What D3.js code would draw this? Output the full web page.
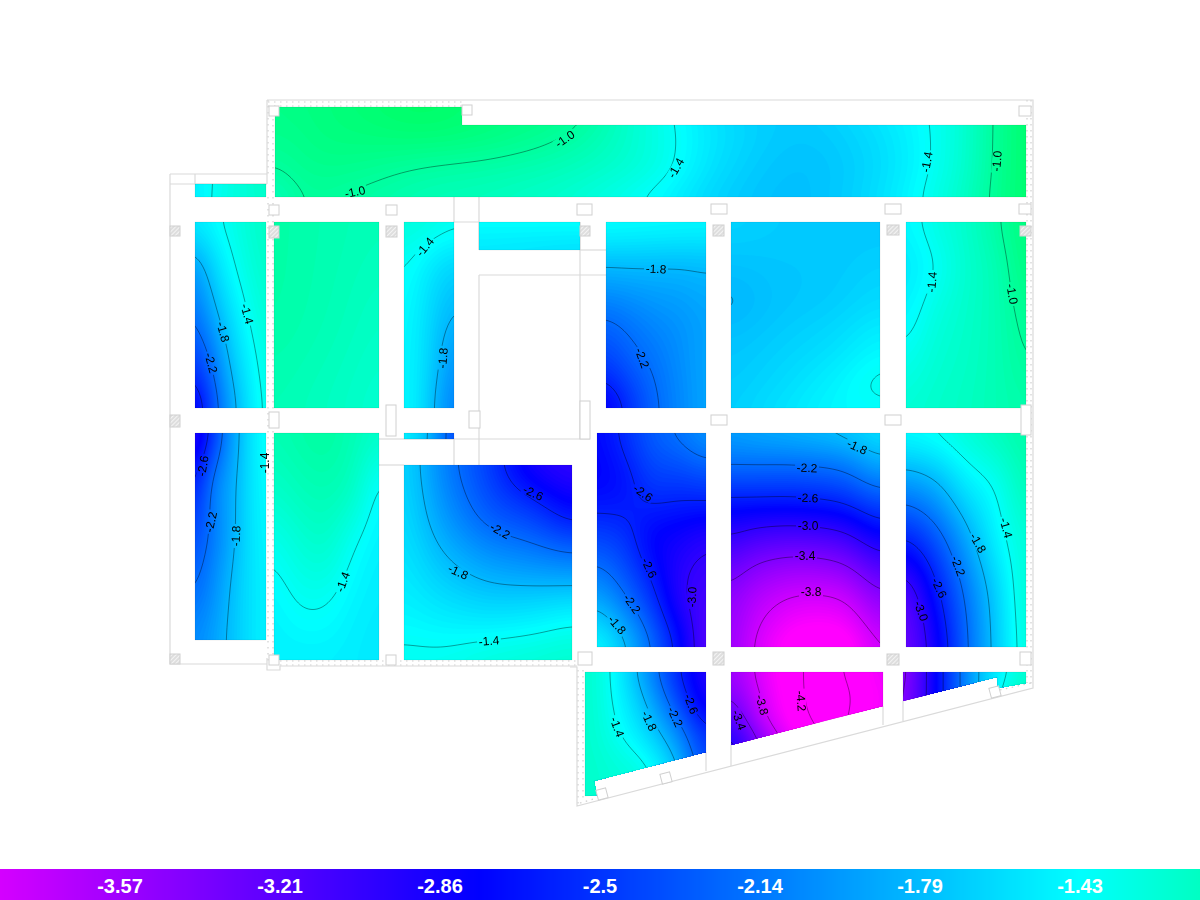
<!DOCTYPE html>
<html>
<head>
<meta charset="utf-8">
<title>Slab contour</title>
<script src="https://cdn.jsdelivr.net/npm/d3@7"></script>
<style>
html, body { margin: 0; padding: 0; background: #fff; }
svg { display: block; }
</style>
</head>
<body>
<script>
// values, one matrix per slab panel (rows = ys, columns = xs)
var topXs = [275, 300, 318, 345, 425, 500, 575, 650, 726, 801, 876, 951, 1026];
var topYs = [107, 137, 167, 197];
var topValues = [
  [-0.9, -0.88, -0.86, -0.83, -0.76, -0.85, -0.95, -1.3, -1.62, -1.7, -1.55, -1.3, -0.8],
  [-0.93, -0.91, -0.88, -0.86, -0.84, -0.9, -1.03, -1.29, -1.6, -1.72, -1.6, -1.3, -0.8],
  [-1.0, -0.95, -0.93, -0.93, -1.0, -1.05, -1.14, -1.31, -1.63, -1.75, -1.62, -1.29, -0.8],
  [-1.12, -1.01, -0.985, -1.01, -1.1, -1.15, -1.24, -1.42, -1.68, -1.76, -1.6, -1.25, -0.8]
];
var stubXs = [195, 210, 266];
var stubYs = [184, 197];
var stubValues = [[-1.5, -1.4, -1.18], [-1.55, -1.38, -1.2]];

var aXs = [195, 213, 231, 248, 266];
var aYs = [222, 268.5, 315, 361.5, 408];
var aValues = [
  [-1.55, -1.45, -1.35, -1.25, -1.17],
  [-1.95, -1.66, -1.44, -1.3, -1.2],
  [-2.2, -1.88, -1.6, -1.39, -1.25],
  [-2.47, -2.15, -1.75, -1.5, -1.3],
  [-2.85, -2.33, -1.9, -1.58, -1.33]
];
var bXs = [274, 326, 379];
var bYs = [222, 315, 408];
var bValues = [[-1.04, -1.08, -1.12], [-1.05, -1.1, -1.17], [-1.1, -1.15, -1.22]];

var cXs = [404, 421, 437, 454];
var cYs = [222, 268, 315, 361, 408];
var cValues = [
  [-1.28, -1.3, -1.33, -1.37],
  [-1.39, -1.47, -1.58, -1.65],
  [-1.44, -1.54, -1.7, -1.82],
  [-1.46, -1.56, -1.77, -1.98],
  [-1.45, -1.58, -1.85, -2.1]
];
var dXs = [479, 580];
var dYs = [222, 250];
var dValues = [[-1.42, -1.41], [-1.55, -1.6]];

var eXs = [606, 631, 656, 681, 706];
var eYs = [222, 268, 315, 361, 408];
var eValues = [
  [-1.42, -1.43, -1.44, -1.45, -1.46],
  [-1.81, -1.8, -1.8, -1.8, -1.78],
  [-2.18, -2.1, -2.02, -1.97, -1.9],
  [-2.45, -2.28, -2.15, -2.02, -1.9],
  [-2.8, -2.5, -2.22, -2.05, -1.9]
];
var fXs = [731, 781, 831, 880];
var fYs = [222, 297, 346, 385, 408];
var fValues = [
  [-1.66, -1.7, -1.72, -1.72],
  [-1.808, -1.74, -1.7, -1.63],
  [-1.74, -1.68, -1.6, -1.48],
  [-1.7, -1.62, -1.5, -1.37],
  [-1.68, -1.58, -1.47, -1.43]
];
var gXs = [906, 936, 966, 996, 1026];
var gYs = [222, 268, 315, 361, 408];
var gValues = [
  [-1.47, -1.32, -1.2, -1.03, -0.85],
  [-1.53, -1.39, -1.22, -1.09, -0.88],
  [-1.47, -1.3, -1.2, -1.1, -0.95],
  [-1.35, -1.24, -1.18, -1.1, -1.0],
  [-1.25, -1.2, -1.16, -1.1, -1.05]
];
var hXs = [195, 213, 231, 248, 266];
var hYs = [433, 485, 537, 588, 640];
var hValues = [
  [-3.0, -2.47, -1.97, -1.62, -1.37],
  [-2.65, -2.12, -1.9, -1.6, -1.42],
  [-2.4, -2.12, -1.87, -1.6, -1.46],
  [-2.22, -2.03, -1.78, -1.6, -1.48],
  [-2.05, -1.93, -1.75, -1.6, -1.48]
];
var iXs = [274, 300, 326, 352, 379];
var iYs = [433, 490, 546, 603, 660];
var iValues = [
  [-1.1, -1.05, -1.02, -1.1, -1.2],
  [-1.2, -1.13, -1.1, -1.18, -1.43],
  [-1.36, -1.26, -1.22, -1.38, -1.5],
  [-1.47, -1.39, -1.39, -1.48, -1.53],
  [-1.5, -1.5, -1.5, -1.52, -1.55]
];
var jXs = [404, 429, 454];
var jYs = [433, 439];
var jValues = [[-1.5, -1.78, -2.4], [-1.5, -1.82, -2.4]];

var kXs = [404, 446, 488, 530, 572];
var kYs = [465, 514, 562, 611, 660];
var kValues = [
  [-1.65, -2.1, -2.45, -2.85, -3.0],
  [-1.62, -1.98, -2.28, -2.45, -2.68],
  [-1.56, -1.77, -1.94, -2.02, -2.09],
  [-1.48, -1.55, -1.6, -1.58, -1.52],
  [-1.37, -1.36, -1.3, -1.26, -1.22]
];
var lXs = [597, 624, 651, 679, 706];
var lYs = [433, 486, 540, 593, 647];
var lValues = [
  [-2.75, -2.55, -2.3, -2.17, -2.0],
  [-2.75, -2.68, -2.5, -2.5, -2.46],
  [-2.4, -2.5, -2.75, -2.85, -2.95],
  [-1.95, -2.2, -2.53, -2.95, -3.1],
  [-1.45, -1.75, -2.2, -2.7, -3.2]
];
var mXs = [731, 757, 797, 843, 880];
var mYs = [433, 465, 497, 530, 563, 597, 647];
var mValues = [
  [-1.95, -1.9, -1.84, -1.75, -1.6],
  [-2.2, -2.2, -2.2, -2.13, -1.9],
  [-2.6, -2.6, -2.6, -2.52, -2.31],
  [-2.95, -3.03, -3.06, -2.98, -2.73],
  [-3.25, -3.4, -3.48, -3.4, -3.12],
  [-3.48, -3.67, -3.82, -3.78, -3.46],
  [-3.55, -3.85, -4.15, -4.15, -3.8]
];
var nXs = [906, 936, 966, 996, 1026];
var nYs = [433, 486, 540, 593, 647];
var nValues = [
  [-1.45, -1.39, -1.27, -1.15, -1.05],
  [-2.0, -1.85, -1.55, -1.38, -1.12],
  [-2.62, -2.33, -1.9, -1.5, -1.25],
  [-3.15, -2.66, -2.15, -1.67, -1.25],
  [-3.3, -2.84, -2.24, -1.72, -1.28]
];
var oXs = [585, 615, 645, 675, 706];
var oYs = [672, 703, 734, 765, 796];
var oValues = [
  [-1.2, -1.45, -1.95, -2.52, -2.95],
  [-1.2, -1.42, -1.78, -2.32, -2.85],
  [-1.2, -1.36, -1.6, -2.0, -2.55],
  [-1.2, -1.27, -1.38, -1.75, -2.4],
  [-1.2, -1.25, -1.3, -1.6, -2.2]
];
var pXs = [731, 769, 807, 845, 883];
var pYs = [672, 697, 721, 745];
var pValues = [
  [-3.55, -3.98, -4.22, -4.2, -3.95],
  [-3.4, -3.92, -4.22, -4.24, -4.0],
  [-3.15, -3.82, -4.19, -4.22, -3.95],
  [-2.9, -3.55, -4.1, -4.2, -3.9]
];
var qXs = [903, 927, 943, 960, 977, 1008, 1026];
var qYs = [672, 701];
var qValues = [
  [-3.5, -3.0, -2.6, -2.2, -1.8, -1.4, -1.22],
  [-3.45, -3.0, -2.6, -2.2, -1.8, -1.25, -1.1]
];

var contourLevels = [-4.2, -3.8, -3.4, -3.0, -2.6, -2.2, -1.8, -1.4, -1.0];
var legendLabels = ["-3.57", "-3.21", "-2.86", "-2.5", "-2.14", "-1.79", "-1.43"];

// contour labels: text, plan position, angle
var contourLabels = [
  ["-1.0", 355, 192, -12], ["-1.0", 565, 139, -35], ["-1.4", 676, 168, -60],
  ["-1.4", 927, 162, -80], ["-1.0", 997, 161, -85],
  ["-1.4", 247, 314, 75], ["-1.8", 223, 332, 75], ["-2.2", 211, 363, 75],
  ["-1.4", 425, 247, -50], ["-1.8", 443, 358, -85],
  ["-1.8", 656, 269, 3], ["-2.2", 642, 358, 70],
  ["-1.4", 932, 282, -85], ["-1.0", 1012, 294, 80],
  ["-2.6", 203, 466, -80], ["-2.2", 211, 522, -78], ["-1.8", 236, 536, -88], ["-1.4", 265, 463, -90],
  ["-1.4", 343, 582, -70],
  ["-2.6", 533, 493, 25], ["-2.2", 500, 531, 30], ["-1.8", 458, 572, 25], ["-1.4", 489, 641, -5],
  ["-2.6", 643, 493, 35], ["-2.6", 649, 568, 65], ["-2.2", 632, 604, 55], ["-1.8", 617, 625, 50], ["-3.0", 692, 597, -88],
  ["-1.8", 857, 447, 25], ["-2.2", 807, 468, 2], ["-2.6", 808, 498, 2], ["-3.0", 808, 526, 0], ["-3.4", 805, 556, 0], ["-3.8", 811, 592, 0],
  ["-1.4", 1006, 528, 75], ["-1.8", 978, 543, 60], ["-2.2", 958, 566, 70], ["-2.6", 939, 588, 65], ["-3.0", 921, 611, 70],
  ["-1.4", 617, 727, 70], ["-1.8", 649, 721, 65], ["-2.2", 675, 717, 65], ["-2.6", 691, 704, 70],
  ["-3.4", 739, 720, 70], ["-3.8", 762, 705, 75], ["-4.2", 801, 701, 85]
];

// plan geometry
function box(x0, y0, x1, y1) { return [[x0, y0], [x1, y0], [x1, y1], [x0, y1]]; }

var panels = [
  { xs: topXs, ys: topYs, values: topValues, outline: [[275, 107], [462, 107], [462, 125], [1026, 125], [1026, 197], [275, 197]] },
  { xs: stubXs, ys: stubYs, values: stubValues, outline: box(195, 184, 266, 197) },
  { xs: aXs, ys: aYs, values: aValues, outline: box(195, 222, 266, 408) },
  { xs: bXs, ys: bYs, values: bValues, outline: box(274, 222, 379, 408) },
  { xs: cXs, ys: cYs, values: cValues, outline: box(404, 222, 454, 408) },
  { xs: dXs, ys: dYs, values: dValues, outline: box(479, 222, 580, 250) },
  { xs: eXs, ys: eYs, values: eValues, outline: box(606, 222, 706, 408) },
  { xs: fXs, ys: fYs, values: fValues, outline: box(731, 222, 880, 408) },
  { xs: gXs, ys: gYs, values: gValues, outline: box(906, 222, 1026, 408) },
  { xs: hXs, ys: hYs, values: hValues, outline: box(195, 433, 266, 640) },
  { xs: iXs, ys: iYs, values: iValues, outline: box(274, 433, 379, 660) },
  { xs: jXs, ys: jYs, values: jValues, outline: box(404, 433, 454, 439) },
  { xs: kXs, ys: kYs, values: kValues, outline: box(404, 465, 572, 660) },
  { xs: lXs, ys: lYs, values: lValues, outline: box(597, 433, 706, 647) },
  { xs: mXs, ys: mYs, values: mValues, outline: box(731, 433, 880, 647) },
  { xs: nXs, ys: nYs, values: nValues, outline: box(906, 433, 1026, 647) },
  { xs: oXs, ys: oYs, values: oValues, outline: [[585, 672], [706, 672], [706, 752], [594, 781], [597, 795], [585, 796]] },
  { xs: pXs, ys: pYs, values: pValues, outline: [[731, 672], [883, 672], [883, 706], [731, 745]] },
  { xs: qXs, ys: qYs, values: qValues, outline: [[903, 672], [1026, 672], [1026, 683], [998, 688], [997, 677], [903, 701]] }
];

var wallLines = [
  [[267, 100], [1033, 100], [1033, 688], [577, 806], [577, 667], [570, 667]],
  [[267, 100], [267, 184]],
  [[170, 174], [267, 174]], [[170, 184], [267, 184]], [[195, 174], [195, 184]],
  [[170, 174], [170, 664], [267, 664]],
  [[267, 658], [267, 670], [280, 670], [280, 666], [577, 666]],
  [[454, 197], [454, 222], [479, 222], [479, 197]],
  [[479, 222], [479, 250]],
  [[479, 275], [479, 465]], [[479, 275], [606, 275]], [[580, 250], [606, 250]], [[580, 222], [580, 439]],
  [[404, 439], [590, 439]], [[454, 439], [454, 465]], [[379, 465], [404, 465]], [[379, 439], [404, 439]],
  [[706, 752], [706, 771]], [[731, 745], [731, 766]], [[883, 706], [883, 725]], [[903, 701], [903, 721]]
];
var dottedLines = [
  [[268, 100], [268, 174]], [[268, 197], [268, 665]], [[273, 107], [273, 660]],
  [[268, 102], [462, 102]], [[268, 106], [462, 106]],
  [[1027, 100], [1027, 683]], [[1031, 100], [1031, 686]],
  [[280, 661], [577, 661]], [[280, 665], [577, 665]],
  [[578, 670], [578, 804]], [[583, 670], [583, 802]],
  [[580, 803], [597, 798]], [[1000, 690], [1031, 683]], [[1003, 686], [1026, 680]]
];
var plainColumns = [
  [269, 106, 279, 116], [462, 105, 472, 115], [1019, 106, 1031, 116],
  [269, 205, 279, 215], [386, 205, 397, 215], [577, 204, 592, 215], [711, 204, 727, 214], [885, 204, 901, 214], [1019, 204, 1031, 214],
  [269, 412, 279, 428], [386, 405, 396, 436], [469, 411, 480, 428], [580, 401, 590, 439], [711, 415, 727, 425], [885, 415, 901, 425], [1021, 405, 1031, 435],
  [269, 655, 279, 665], [386, 655, 396, 665], [578, 652, 592, 665], [1020, 652, 1031, 665]
];
var hatchedColumns = [
  [170, 226, 180, 236], [269, 226, 279, 238], [386, 226, 397, 237], [580, 226, 590, 236], [713, 225, 724, 236], [887, 225, 899, 235], [1020, 226, 1031, 236],
  [170, 415, 180, 427],
  [170, 654, 180, 664], [713, 652, 724, 665], [887, 654, 899, 665]
];
var tiltedColumns = [[602, 794], [666, 778], [995, 692]];

var width = 1200;
var height = 900;

var planX = d3.scaleLinear().domain([0, 1200]).range([0, width]);
var planY = d3.scaleLinear().domain([0, 900]).range([0, height]);

var color = d3.scaleLinear()
  .domain([-4.05, -2.77, -1.43, -0.3])
  .range(["#ff00ff", "#0000ff", "#00ffff", "#00ff00"])
  .clamp(true);

var legendX = d3.scaleLinear().domain([-3.57, -1.43]).range([120, 1080]);
var legendPos = d3.scalePoint().domain(legendLabels).range([120, 1080]);

var svg = d3.select("body").append("svg")
  .attr("width", width)
  .attr("height", height)
  .attr("viewBox", "0 0 " + width + " " + height);

var defs = svg.append("defs");

var hatch = defs.append("pattern")
  .attr("id", "hatch")
  .attr("width", 3).attr("height", 3)
  .attr("patternUnits", "userSpaceOnUse")
  .attr("patternTransform", "rotate(-45)");
hatch.append("rect").attr("width", 3).attr("height", 3).attr("fill", "#f4f4f4");
hatch.append("line").attr("x1", 0).attr("x2", 3).attr("y1", 1).attr("y2", 1)
  .attr("stroke", "#bdbdbd").attr("stroke-width", 0.8);

var line = d3.line().x(function(d) { return planX(d[0]); }).y(function(d) { return planY(d[1]); });

// catmull-rom sampling of a panel's value matrix
function cubic(a, b, c, d, t) {
  return b + 0.5 * t * (c - a + t * (2 * a - 5 * b + 4 * c - d + t * (3 * (b - c) + d - a)));
}

function sampler(panel) {
  var ux = d3.scaleLinear().domain(panel.xs).range(d3.range(panel.xs.length)).clamp(true);
  var uy = d3.scaleLinear().domain(panel.ys).range(d3.range(panel.ys.length)).clamp(true);
  var nx = panel.xs.length, ny = panel.ys.length;
  function at(i, j) {
    return panel.values[Math.max(0, Math.min(ny - 1, j))][Math.max(0, Math.min(nx - 1, i))];
  }
  return function(x, y) {
    var u = ux(x), v = uy(y);
    var i = Math.min(Math.floor(u), nx - 1), j = Math.min(Math.floor(v), ny - 1);
    var tx = u - i, ty = v - j;
    var rows = [];
    for (var k = -1; k <= 2; k++) {
      rows.push(cubic(at(i - 1, j + k), at(i, j + k), at(i + 1, j + k), at(i + 2, j + k), tx));
    }
    return cubic(rows[0], rows[1], rows[2], rows[3], ty);
  };
}

// walls under everything
var walls = svg.append("g").attr("fill", "none");
walls.selectAll(".dot").data(dottedLines).enter().append("path")
  .attr("d", line)
  .attr("stroke", "#cfcfcf")
  .attr("stroke-width", 1.2)
  .attr("stroke-dasharray", "1.5,4.5");
walls.selectAll(".wall").data(wallLines).enter().append("path")
  .attr("d", line)
  .attr("stroke", "#dadada")
  .attr("stroke-width", 1.2);

// gaps in the contour lines where the labels sit
var mask = defs.append("mask")
  .attr("id", "label-gaps")
  .attr("maskUnits", "userSpaceOnUse")
  .attr("x", 0).attr("y", 0).attr("width", width).attr("height", height);
mask.append("rect").attr("width", width).attr("height", height).attr("fill", "#fff");
mask.selectAll("rect.gap").data(contourLabels).enter().append("rect")
  .attr("class", "gap")
  .attr("x", -12).attr("y", -5).attr("width", 24).attr("height", 10)
  .attr("fill", "#000")
  .attr("transform", function(d) { return "translate(" + planX(d[1]) + "," + planY(d[2]) + ") rotate(" + d[3] + ")"; });

var fills = svg.append("g");
var isolines = svg.append("g").attr("mask", "url(#label-gaps)");
var cell = 2, margin = 4, bandStep = 0.025;

panels.forEach(function(panel, index) {
  var clipId = "panel-" + index;
  defs.append("clipPath").attr("id", clipId).append("path").attr("d", line(panel.outline) + "Z");

  var x0 = d3.min(panel.outline, function(d) { return d[0]; }) - margin;
  var x1 = d3.max(panel.outline, function(d) { return d[0]; }) + margin;
  var y0 = d3.min(panel.outline, function(d) { return d[1]; }) - margin;
  var y1 = d3.max(panel.outline, function(d) { return d[1]; }) + margin;
  var nx = Math.ceil((x1 - x0) / cell) + 1;
  var ny = Math.ceil((y1 - y0) / cell) + 1;

  var sample = sampler(panel);
  var grid = new Array(nx * ny);
  for (var j = 0; j < ny; j++) {
    for (var i = 0; i < nx; i++) {
      grid[i + j * nx] = sample(x0 + i * cell, y0 + j * cell);
    }
  }
  // take the wobble out of the cubic patches
  d3.blur2({ data: grid, width: nx, height: ny }, 4);

  var path = d3.geoPath(d3.geoTransform({
    point: function(cx, cy) {
      this.stream.point(planX(x0 + (cx - 0.5) * cell), planY(y0 + (cy - 0.5) * cell));
    }
  }));
  var contours = d3.contours().size([nx, ny]);

  var lo = Math.floor(d3.min(grid) / bandStep) * bandStep;
  var bands = contours.thresholds(d3.range(lo, d3.max(grid), bandStep))(grid);

  fills.append("g")
    .attr("clip-path", "url(#" + clipId + ")")
    .selectAll("path").data(bands).enter().append("path")
    .attr("d", path)
    .attr("fill", function(d) { return color(d.value + bandStep / 2); });

  isolines.append("g")
    .attr("clip-path", "url(#" + clipId + ")")
    .selectAll("path").data(contours.thresholds(contourLevels)(grid)).enter().append("path")
    .attr("d", path)
    .attr("fill", "none")
    .attr("stroke", "#000")
    .attr("stroke-opacity", 0.42)
    .attr("stroke-width", 0.9);

  fills.append("path")
    .attr("d", line(panel.outline) + "Z")
    .attr("fill", "none")
    .attr("stroke", "#000")
    .attr("stroke-opacity", 0.12)
    .attr("stroke-width", 0.6);
});

// columns
var columns = svg.append("g");
function drawColumns(data, fill) {
  columns.selectAll(null).data(data).enter().append("rect")
    .attr("x", function(d) { return planX(d[0]); })
    .attr("y", function(d) { return planY(d[1]); })
    .attr("width", function(d) { return planX(d[2]) - planX(d[0]); })
    .attr("height", function(d) { return planY(d[3]) - planY(d[1]); })
    .attr("fill", fill)
    .attr("stroke", "#d0d0d0")
    .attr("stroke-width", 1);
}
drawColumns(plainColumns, "#fff");
drawColumns(hatchedColumns, "url(#hatch)");

columns.selectAll(null).data(tiltedColumns).enter().append("rect")
  .attr("x", -5).attr("y", -5).attr("width", 10).attr("height", 10)
  .attr("fill", "#fff")
  .attr("stroke", "#d0d0d0")
  .attr("transform", function(d) { return "translate(" + planX(d[0]) + "," + planY(d[1]) + ") rotate(-15)"; });

// contour labels
svg.append("g")
  .attr("font-family", "'Liberation Sans', Arial, sans-serif")
  .attr("font-size", 12)
  .attr("fill", "#000")
  .attr("text-anchor", "middle")
  .attr("dominant-baseline", "central")
  .selectAll("text").data(contourLabels).enter().append("text")
  .attr("transform", function(d) { return "translate(" + planX(d[1]) + "," + planY(d[2]) + ") rotate(" + d[3] + ")"; })
  .text(function(d) { return d[0]; });

// legend bar
var legend = svg.append("g");
legend.selectAll("rect").data(d3.range(0, width, 2)).enter().append("rect")
  .attr("x", function(d) { return d; })
  .attr("y", 869)
  .attr("width", 2.5)
  .attr("height", 31)
  .attr("fill", function(d) { return color(legendX.invert(d + 1)); });

legend.selectAll("text").data(legendLabels).enter().append("text")
  .attr("x", function(d) { return legendPos(d); })
  .attr("y", 886)
  .attr("text-anchor", "middle")
  .attr("dominant-baseline", "central")
  .attr("font-family", "'Liberation Sans', Arial, sans-serif")
  .attr("font-weight", "bold")
  .attr("font-size", 20)
  .attr("fill", "#fff")
  .text(function(d) { return d; });
</script>
</body>
</html>
